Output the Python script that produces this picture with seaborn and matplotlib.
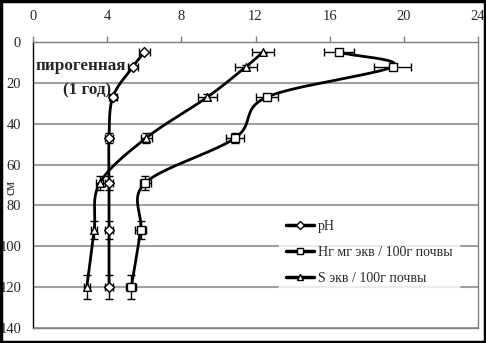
import numpy as np
import pandas as pd
import matplotlib
matplotlib.use("Agg")
import matplotlib.pyplot as plt
from matplotlib.lines import Line2D
from matplotlib.patches import Rectangle
import seaborn as sns

# depth (cm) and values
depth = [5, 12, 27, 47, 69, 92, 120]
ph = [6.0, 5.4, 4.3, 4.1, 4.1, 4.1, 4.1]
hr = [16.5, 19.4, 12.6, 10.9, 6.05, 5.8, 5.3]
s_val = [12.4, 11.5, 9.4, 6.1, 3.6, 3.3, 2.9]

ph_err = [0.3, 0.27, 0.22, 0.2, 0.2, 0.2, 0.2]
hr_err = [0.8, 1.0, 0.6, 0.5, 0.3, 0.3, 0.27]
s_err = [0.6, 0.6, 0.5, 0.3, 0.2, 0.17, 0.15]
depth_err = [0.25, 0.6, 1.35, 2.4, 3.5, 4.6, 6.0]

labels = ["pH", "Нг мг экв / 100г почвы", "S экв / 100г почвы"]
markers = ["D", "s", "^"]
msizes = [5, 5.5, 5.5]

df = pd.DataFrame({
    "depth": depth * 3,
    "value": ph + hr + s_val,
    "series": [labels[0]] * 7 + [labels[1]] * 7 + [labels[2]] * 7,
})


# catmull-rom smoothing, like the smoothed lines in Excel
def smooth(xs, ys, n=24):
    pts = np.column_stack([xs, ys]).astype(float)
    p = np.vstack([pts[0] * 2 - pts[1], pts, pts[-1] * 2 - pts[-2]])
    out = []
    t = np.linspace(0, 1, n)[:, None]
    for i in range(1, len(p) - 2):
        p0, p1, p2, p3 = p[i - 1], p[i], p[i + 1], p[i + 2]
        seg = 0.5 * ((2 * p1) + (-p0 + p2) * t
                     + (2 * p0 - 5 * p1 + 4 * p2 - p3) * t ** 2
                     + (-p0 + 3 * p1 - 3 * p2 + p3) * t ** 3)
        out.append(seg)
    out = np.vstack(out)
    return out[:, 0], out[:, 1]


sns.set_style("white")
plt.rcParams["font.family"] = ["Liberation Serif", "DejaVu Serif"]

fig = plt.figure(figsize=(4.86, 3.43), dpi=100)
ax = fig.add_axes([33 / 486, 1 - 328 / 343, 445 / 486, 286 / 343])

for vals, errs in [(ph, ph_err), (hr, hr_err), (s_val, s_err)]:
    sx, sy = smooth(vals, depth)
    ax.plot(sx, sy, color="black", lw=2, zorder=3)
    ax.errorbar(vals, depth, xerr=errs, yerr=depth_err, fmt="none",
                ecolor="black", elinewidth=1, capsize=3, capthick=1, zorder=4)

for lab, m, ms in zip(labels, markers, msizes):
    sub = df[df["series"] == lab]
    sns.scatterplot(data=sub, x="value", y="depth", marker=m, s=ms ** 2,
                    color="white", edgecolor="black", linewidth=1,
                    zorder=5, ax=ax, legend=False)

ax.set_xlim(0, 24)
ax.set_ylim(140, 0)
ax.set_xticks(range(0, 25, 4))
ax.set_yticks(range(0, 141, 20))
ax.xaxis.tick_top()
ax.tick_params(axis="x", direction="out", length=4, width=1, pad=10,
               labelsize=10.5, color="#808080")
ax.tick_params(axis="y", direction="inout", length=9, width=1, pad=4,
               labelsize=10.5, color="black")
ax.set_xlabel("")
ax.set_ylabel("см", fontsize=10, labelpad=0)
ax.yaxis.set_label_coords(-0.034, 0.49)

ax.yaxis.grid(True, color="#a0a0a0", lw=1.5)
ax.xaxis.grid(False)
for side in ["top", "right", "bottom"]:
    ax.spines[side].set_color("#808080")
    ax.spines[side].set_linewidth(1)
ax.spines["left"].set_color("black")
ax.spines["left"].set_linewidth(1)

ax.text(0.16, 11.8, "пирогенная", fontsize=12.3, fontweight="bold",
        va="center", ha="left", zorder=6)
ax.text(1.6, 23.5, "(1 год)", fontsize=12.3, fontweight="bold",
        va="center", ha="left", zorder=6)

handles = [Line2D([], [], color="black", lw=2.5, marker=m, ms=ms * 0.8,
                  markerfacecolor="white", markeredgecolor="black")
           for m, ms in zip(markers, msizes)]
leg = ax.legend(handles, labels, loc="upper left",
                bbox_to_anchor=(272 / 486, 1 - 206 / 343),
                bbox_transform=fig.transFigure, frameon=True, fontsize=10,
                handlelength=2.0, handletextpad=0.3, labelspacing=0.95,
                borderpad=0.5, fancybox=False)
leg.get_frame().set_edgecolor("white")
leg.get_frame().set_facecolor("white")
leg.set_zorder(7)

fig.patches.append(Rectangle((0.002, 0.003), 0.996, 0.994, transform=fig.transFigure,
                             fill=False, edgecolor="black", lw=2.5))

fig.savefig("out.png", dpi=100)
